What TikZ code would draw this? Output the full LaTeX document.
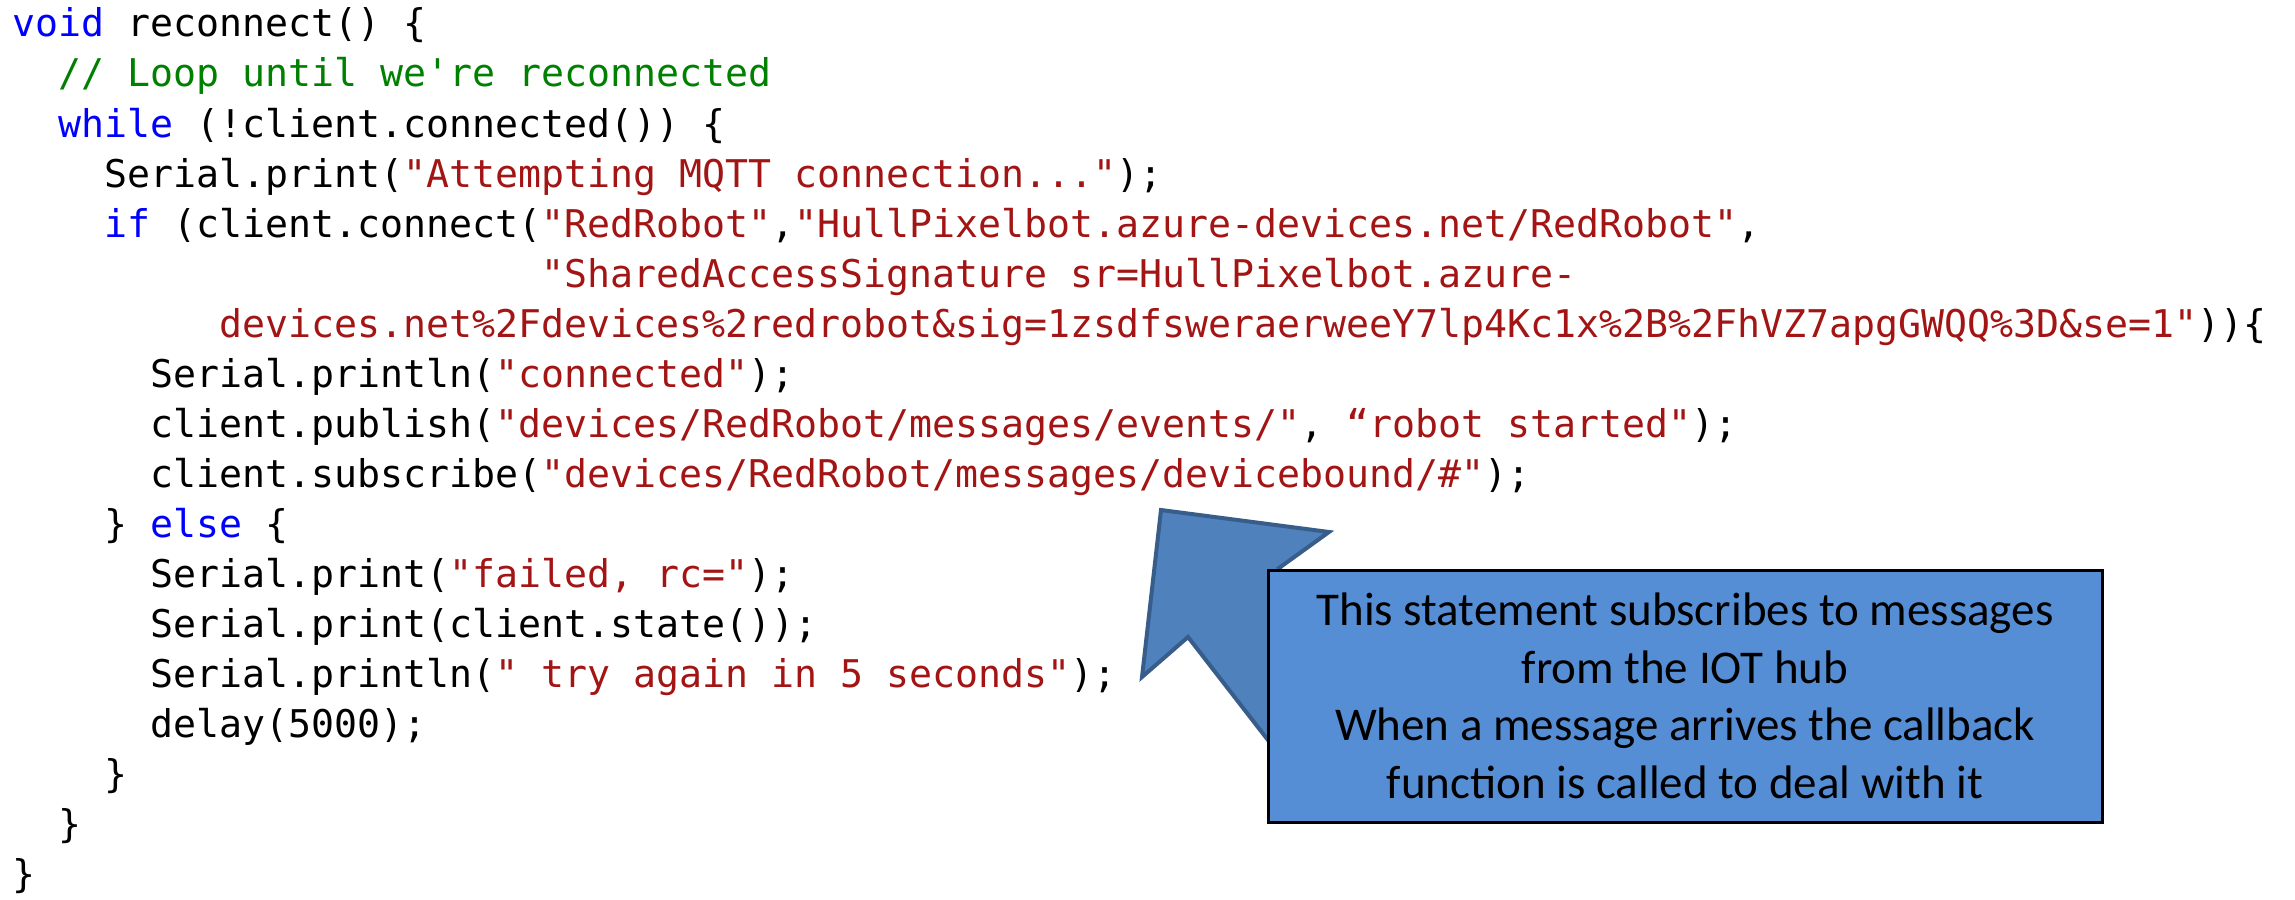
\documentclass[tikz,border=0pt]{standalone}
\usepackage{fontspec}
\setmonofont{DejaVu Sans Mono}
\newfontfamily\notefont{Carlito}
\definecolor{kwblue}{RGB}{0,0,255}
\definecolor{cmtgreen}{RGB}{0,128,0}
\definecolor{strred}{RGB}{163,21,21}
\definecolor{pointerfill}{RGB}{79,129,189}
\definecolor{pointerline}{RGB}{56,93,138}
\definecolor{notefill}{RGB}{85,142,213}
\newcommand\kwd[1]{\textcolor{kwblue}{#1}}
\newcommand\cmnt[1]{\textcolor{cmtgreen}{#1}}
\newcommand\strg[1]{\textcolor{strred}{#1}}
% column of the code grid, in pixels
\newcommand\col[1]{12+23*#1}
\tikzset{
  code/.style={anchor=base west, inner sep=0pt,
    font=\ttfamily\fontsize{19.1pt}{25pt}\selectfont},
  note/.style={draw=black, line width=1.5pt, fill=notefill,
    minimum width=417pt, minimum height=126pt, inner sep=0pt,
    align=center, font=\notefont\fontsize{23.5pt}{28.75pt}\selectfont},
  pointer/.style={fill=pointerfill, draw=pointerline, line width=2pt,
    line join=miter}
}
\begin{document}
\begin{tikzpicture}[x=0.5pt,y=-0.5pt]
  \useasboundingbox (0,0) rectangle (2295,899);
  % code listing
  \node[code] (l1) at ({\col{0}},37) {\kwd{void} reconnect() \{};
  \node[code] (l2) at ({\col{2}},87) {\cmnt{// Loop until we're reconnected}};
  \node[code] (l3) at ({\col{2}},137) {\kwd{while} (!client.connected()) \{};
  \node[code] (l4) at ({\col{4}},187) {Serial.print(\strg{"Attempting MQTT connection..."});};
  \node[code] (l5) at ({\col{4}},237) {\kwd{if} (client.connect(\strg{"RedRobot"},\strg{"HullPixelbot.azure-devices.net/RedRobot"},};
  \node[code] (l6) at ({\col{23}},287) {\strg{"SharedAccessSignature sr=HullPixelbot.azure-}};
  \node[code] (l7) at ({\col{9}},337) {\strg{devices.net\%2Fdevices\%2redrobot\&sig=1zsdfsweraerweeY7lp4Kc1x\%2B\%2FhVZ7apgGWQQ\%3D\&se=1"}))\{};
  \node[code] (l8) at ({\col{6}},387) {Serial.println(\strg{"connected"});};
  \node[code] (l9) at ({\col{6}},437) {client.publish(\strg{"devices/RedRobot/messages/events/"}, \strg{“robot started"});};
  \node[code] (l10) at ({\col{6}},487) {client.subscribe(\strg{"devices/RedRobot/messages/devicebound/\#"});};
  \node[code] (l11) at ({\col{4}},537) {\} \kwd{else} \{};
  \node[code] (l12) at ({\col{6}},587) {Serial.print(\strg{"failed, rc="});};
  \node[code] (l13) at ({\col{6}},637) {Serial.print(client.state());};
  \node[code] (l14) at ({\col{6}},687) {Serial.println(\strg{" try again in 5 seconds"});};
  \node[code] (l15) at ({\col{6}},737) {delay(5000);};
  \node[code] (l16) at ({\col{4}},787) {\}};
  \node[code] (l17) at ({\col{2}},837) {\}};
  \node[code] (l18) at ({\col{0}},887) {\}};
  % callout pointer, its shaft runs under the box
  \draw[pointer] (1161,510) -- (1329,532) -- (1279,568) -- (1407,733)
    -- (1316,802) -- (1188,637) -- (1142,677) -- cycle;
  \node[note] (note) at (1685,696) {This statement subscribes to messages\\
    from the IOT hub\\
    When a message arrives the callback\\
    function is called to deal with it};
\end{tikzpicture}
\end{document}
